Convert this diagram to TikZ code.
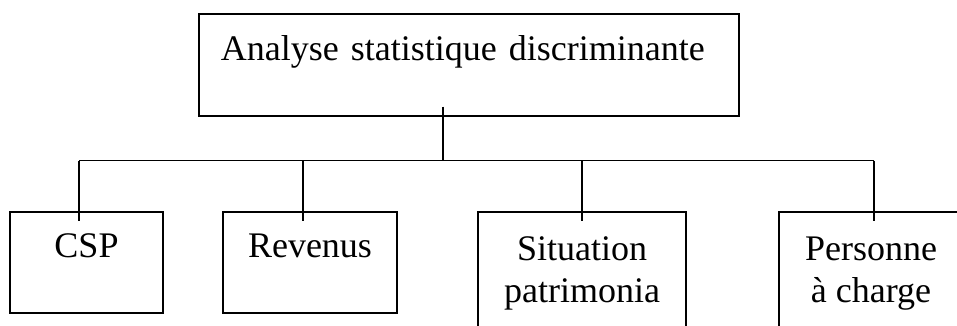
\documentclass[tikz,border=0pt]{standalone}
\usepackage{fontspec}
\setmainfont{Liberation Serif}
\usetikzlibrary{positioning}

\begin{document}
\begin{tikzpicture}[x=1pt, y=1pt, font=\fontsize{36}{42}\selectfont,
    box/.style={draw, line width=1.6pt, inner sep=0pt, text height=46pt, align=center},
    link/.style={line width=1.6pt}]
    \useasboundingbox (0,0) rectangle (957,325);
    \clip (0,0) rectangle (957,325);
    \node[box, anchor=north west, minimum width=540pt, text width=496pt, align=left,
      inner xsep=22pt, text height=47pt, text depth=55pt] (asd) at (198,312)
      {Analyse statistique discriminante};
    \node[box, anchor=north, minimum width=153pt, text depth=55pt] (csp) at (86.5,114) {CSP};
    \node[box, anchor=north, minimum width=174pt, text depth=55pt] (rev) at (310,114) {Revenus};
    \node[box, anchor=north, minimum width=208pt, text height=91pt, text depth=43pt] (sit) at (582,114)
      {Situation\\patrimonia};
    \node[box, anchor=north, minimum width=184pt, text height=91pt, text depth=43pt] (pers) at (871,114)
      {Personne\\à charge};
    \coordinate (top) at ([xshift=245pt, yshift=10pt]asd.south west);
    \coordinate (bus) at ([yshift=-44pt]asd.south);
    \foreach \n/\dx in {csp/-7.5, rev/-7, sit/0, pers/3}
      \coordinate (\n-in) at ([xshift=\dx pt]\n.north);
    \draw[link] (top) -- (top |- bus);
    \draw[link] (csp-in |- bus) -- (pers-in |- bus);
    \foreach \n in {csp, rev, sit, pers}
      \draw[link] (\n-in |- bus) -- ([yshift=-10pt]\n-in);
\end{tikzpicture}
\end{document}
